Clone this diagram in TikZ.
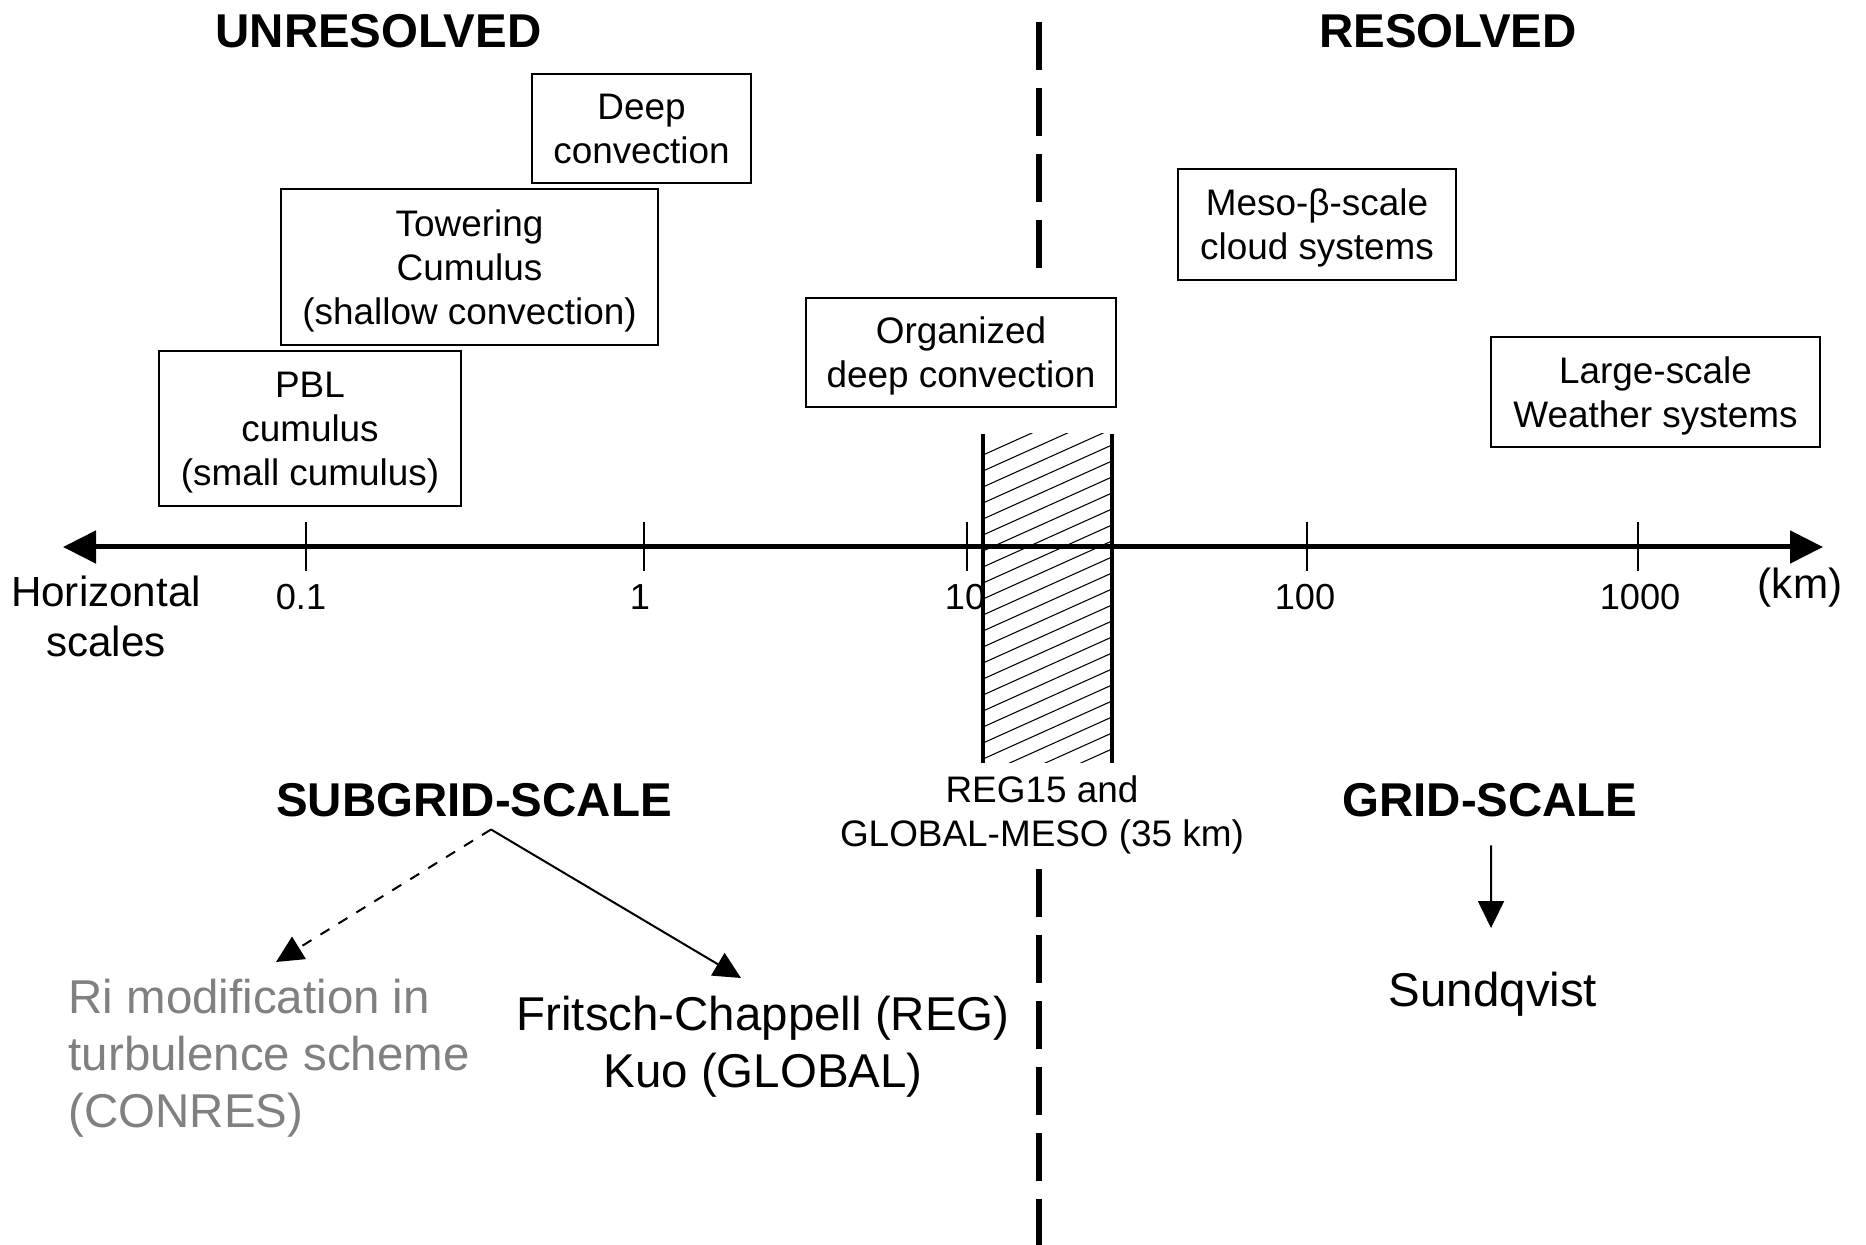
\documentclass[tikz,border=0pt]{standalone}
\usepackage{fontspec}
\setmainfont{Liberation Sans}
\usepackage{xcolor}
\usetikzlibrary{arrows.meta,positioning}

\definecolor{ritxt}{gray}{0.5}

\begin{document}
\begin{tikzpicture}[
    scalebox/.style={draw,line width=0.02cm,inner sep=0pt,align=center,
      font=\fontsize{10.5}{12.5}\selectfont,text depth=-1pt},
    headtxt/.style={font=\fontsize{13.5}{16.2}\selectfont\bfseries,inner sep=0.12cm},
    bigtxt/.style={font=\fontsize{13.5}{16.2}\selectfont,align=center,inner sep=0pt},
    axtxt/.style={font=\fontsize{12}{14.2}\selectfont,align=center,inner sep=0pt},
    ticklbl/.style={font=\fontsize{10.3}{12}\selectfont,inner sep=0pt},
    tip/.style={-{Triangle[length=0.27cm,width=0.26cm]},line width=0.02cm},
    axtip/.style={{Triangle[length=0.33cm,width=0.32cm]}-{Triangle[length=0.33cm,width=0.32cm]}}
  ]
  \useasboundingbox (0,-6.98) rectangle (18.66,5.47);

  % hatched band
  \begin{scope}
    \clip (9.83,1.13) rectangle (11.12,-2.16);
    \foreach \k in {0,...,23}
      \draw[line width=0.3pt] (9.83,{0.92-\k*0.16}) -- ++(1.29,0.58);
  \end{scope}
  \draw[line width=0.04cm] (9.83,1.13) -- (9.83,-2.16);
  \draw[line width=0.04cm] (11.12,1.13) -- (11.12,-2.16);

  % resolved / unresolved split
  \draw[line width=0.06cm,dash pattern=on 0.48cm off 0.18cm] (10.39,5.25) -- (10.39,2.79);
  \draw[line width=0.06cm,dash pattern=on 0.48cm off 0.18cm] (10.39,-3.22) -- (10.39,-6.98);

  % scale axis
  \coordinate (axl) at (0.63,0);
  \coordinate (axr) at (18.23,0);
  \draw[line width=0.05cm,axtip] (axl) -- (axr);
  \foreach \x/\lx/\lbl [count=\i] in {3.06/3.01/0.1, 6.44/6.40/1, 9.67/9.65/10,
      13.07/13.05/100, 16.38/16.40/1000} {
    \draw[line width=0.02cm] (\x,0.25) -- (\x,-0.24);
    \node[ticklbl] (tick\i) at (\lx,-0.50) {\lbl};
  }
  \node[axtxt] (hscale) at (1.06,-0.69) {Horizontal\\scales};
  \node[axtxt] (km) at (18.00,-0.41) {(km)};

  % headings
  \node[headtxt] (unres) at (3.785,5.16) {UNRESOLVED};
  \node[headtxt] (res) at (14.48,5.16) {RESOLVED};
  \node[headtxt] (sub) at (4.74,-2.53) {SUBGRID-SCALE};
  \node[headtxt] (grid) at (14.90,-2.53) {GRID-SCALE};

  % phenomena
  \node[scalebox,minimum width=2.19cm,minimum height=1.09cm] (deep) at (6.415,4.185) {Deep\\convection};
  \node[scalebox,minimum width=3.77cm,minimum height=1.56cm] (tower) at (4.695,2.80) {Towering\\Cumulus\\(shallow convection)};
  \node[scalebox,minimum width=3.02cm,minimum height=1.55cm] (pbl) at (3.10,1.185) {PBL\\cumulus\\(small cumulus)};
  \node[scalebox,minimum width=3.10cm,minimum height=1.09cm] (org) at (9.61,1.945) {Organized\\deep convection};
  \node[scalebox,minimum width=2.78cm,minimum height=1.11cm] (meso) at (13.17,3.225) {Meso-β-scale\\cloud systems};
  \node[scalebox,minimum width=3.29cm,minimum height=1.10cm] (large) at (16.555,1.55) {Large-scale\\Weather systems};

  \node[scalebox,draw=none] (reg) at (10.42,-2.64) {REG15 and\\GLOBAL-MESO (35 km)};

  % schemes
  \node[bigtxt,align=left,anchor=west,text=ritxt] (ri) at (0.68,-5.11) {Ri modification in\\turbulence scheme\\(CONRES)};
  \node[bigtxt] (fc) at (7.63,-5.00) {Fritsch-Chappell (REG)\\Kuo (GLOBAL)};
  \node[bigtxt] (sund) at (14.93,-4.47) {Sundqvist};

  \coordinate (ritip) at (2.76,-4.15);
  \coordinate (fctip) at (7.41,-4.31);
  \coordinate (sutip) at (14.91,-3.81);
  \draw[tip,dashed] ([xshift=0.17cm]sub.south) -- (ritip);
  \draw[tip] ([xshift=0.17cm]sub.south) -- (fctip);
  \draw[tip] ([xshift=0.01cm,yshift=-0.16cm]grid.south) -- (sutip);
\end{tikzpicture}
\end{document}
